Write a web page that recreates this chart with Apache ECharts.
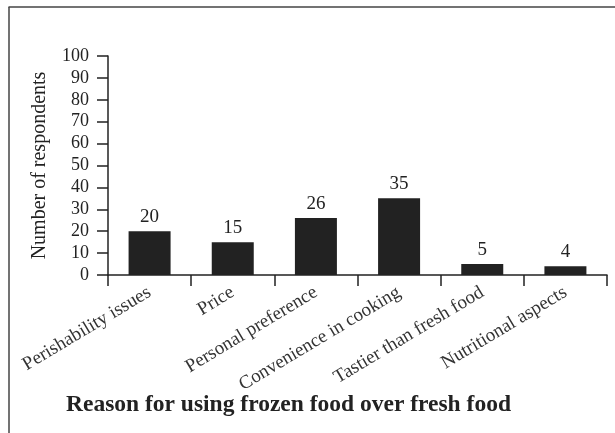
<!DOCTYPE html>
<html>
<head>
<meta charset="utf-8">
<script src="https://cdn.jsdelivr.net/npm/echarts@6/dist/echarts.min.js"></script>
<style>
  html, body { margin: 0; padding: 0; background: #fff; }
  #chart { width: 615px; height: 433px; }
</style>
</head>
<body>
<div id="chart"></div>
<script>
// Reasons respondents gave for choosing frozen food over fresh food
const categories = [
  'Perishability issues',
  'Price',
  'Personal preference',
  'Convenience in cooking',
  'Tastier than fresh food',
  'Nutritional aspects'
];
const respondents = [20, 15, 26, 35, 5, 4];
const yTicks = [0, 10, 20, 30, 40, 50, 60, 70, 80, 90, 100];

const serif = '"Liberation Serif", "DejaVu Serif", serif';
const ink = '#222';

const chart = echarts.init(document.getElementById('chart'), null, { renderer: 'canvas' });
chart.setOption({
  animation: false,
  backgroundColor: '#fff',
  title: {
    text: 'Reason for using frozen food over fresh food',
    left: 61,
    top: 388,
    textStyle: { fontFamily: serif, fontSize: 23.5, fontWeight: 'bold', color: ink }
  },
  // open frame: top and left edges of the surrounding box
  graphic: [
    {
      type: 'line',
      shape: { x1: 8.5, y1: 7, x2: 615, y2: 7 },
      style: { stroke: '#444', lineWidth: 1.5 },
      silent: true
    },
    {
      type: 'line',
      shape: { x1: 9, y1: 7, x2: 9, y2: 433 },
      style: { stroke: '#444', lineWidth: 1.5 },
      silent: true
    }
  ],
  grid: { left: 108, right: 8, top: 56, bottom: 158, containLabel: false },
  xAxis: {
    type: 'category',
    data: categories,
    axisLine: { lineStyle: { color: ink, width: 1.5 } },
    axisTick: { show: true, length: 11, lineStyle: { color: ink, width: 1.5 } },
    axisLabel: {
      rotate: 31,
      margin: 16,
      interval: 0,
      fontFamily: serif,
      fontSize: 19,
      color: '#333'
    }
  },
  yAxis: {
    type: 'value',
    min: yTicks[0],
    max: yTicks[yTicks.length - 1],
    interval: 10,
    name: 'Number of respondents',
    nameLocation: 'middle',
    nameGap: 58,
    nameTextStyle: { fontFamily: serif, fontSize: 20, color: ink },
    axisLine: { show: true, lineStyle: { color: ink, width: 1.5 } },
    axisTick: { show: true, length: 11, lineStyle: { color: ink, width: 1.5 } },
    axisLabel: { fontFamily: serif, fontSize: 18, color: ink, margin: 19 },
    splitLine: { show: false }
  },
  series: [{
    type: 'bar',
    data: respondents,
    barWidth: 42,
    itemStyle: { color: ink },
    label: {
      show: true,
      position: 'top',
      distance: 5,
      fontFamily: serif,
      fontSize: 19,
      color: ink
    }
  }]
});
</script>
</body>
</html>
